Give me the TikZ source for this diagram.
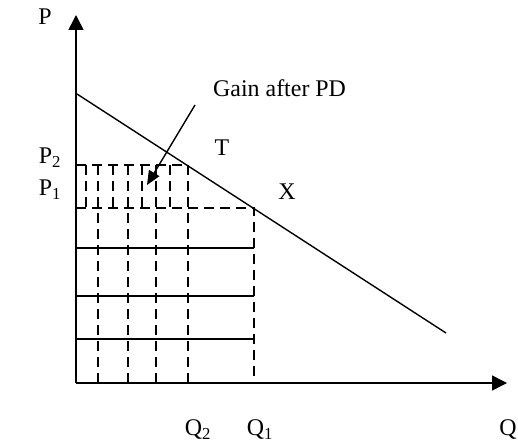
\documentclass[tikz,border=0pt]{standalone}
\usepackage{fontspec}
\setmainfont{Liberation Serif}
\usetikzlibrary{arrows.meta}

\begin{document}
\begin{tikzpicture}[
    x=1bp, y=-1bp,
    font=\fontsize{24}{28}\selectfont,
    % Reusable styles
    axis/.style={line width=1.6bp, -{Triangle[length=15bp,width=15bp]}},
    demand/.style={line width=1.4bp},
    dashline/.style={line width=1.4bp, dash pattern=on 10bp off 6bp},
    solidline/.style={line width=1.4bp},
    pointer/.style={line width=1.4bp, -{Triangle[length=14bp,width=12bp]}},
    lbl/.style={inner sep=0pt}
  ]
  \useasboundingbox (0,0) rectangle (518,447);

  % Axes
  \coordinate (O) at (76,383);
  \coordinate (ytop) at (76,15);
  \coordinate (xend) at (507,383);
  \draw[axis] (O) -- (ytop);
  \draw[axis] (O) -- (xend);

  % Demand curve
  \coordinate (dstart) at (77,94);
  \coordinate (dend) at (446,333);
  \draw[demand] (dstart) -- (dend);

  % Price and quantity levels
  \coordinate (p2) at (76,165);
  \coordinate (t) at (188,165);
  \coordinate (p1) at (76,208);
  \coordinate (x) at (254,208);
  \coordinate (q2) at (188,383);
  \coordinate (q1) at (254,383);
  \draw[dashline] (p2) -- (t) -- (q2);
  \draw[dashline] (p1) -- (x) -- (q1);

  % Dashed divisions
  \foreach \xx in {98,128,156}
    \draw[dashline] (\xx,165) -- (\xx,383);
  \foreach \xx in {86,113,142,170}
    \draw[dashline] (\xx,165) -- (\xx,208);

  % Solid steps
  \foreach \yy in {248,296,339}
    \draw[solidline] (76,\yy) -- (254,\yy);

  % Labels
  \node[lbl] (plab) at (45,17) {P};
  \node[lbl] (p2lab) at (50,158) {P\textsubscript{2}};
  \node[lbl] (p1lab) at (50,190) {P\textsubscript{1}};
  \node[lbl] (tlab) at (222,148) {T};
  \node[lbl] (xlab) at (287,192) {X};
  \node[lbl] (q2lab) at (198,430) {Q\textsubscript{2}};
  \node[lbl] (q1lab) at (260,430) {Q\textsubscript{1}};
  \node[lbl] (qlab) at (508,430) {Q};
  \node[lbl, anchor=west] (gain) at (213,88) {Gain after PD};

  % Pointer to the gain area
  \coordinate (gfrom) at (195,105);
  \coordinate (gto) at (147,185);
  \draw[pointer] (gfrom) -- (gto);
\end{tikzpicture}
\end{document}
